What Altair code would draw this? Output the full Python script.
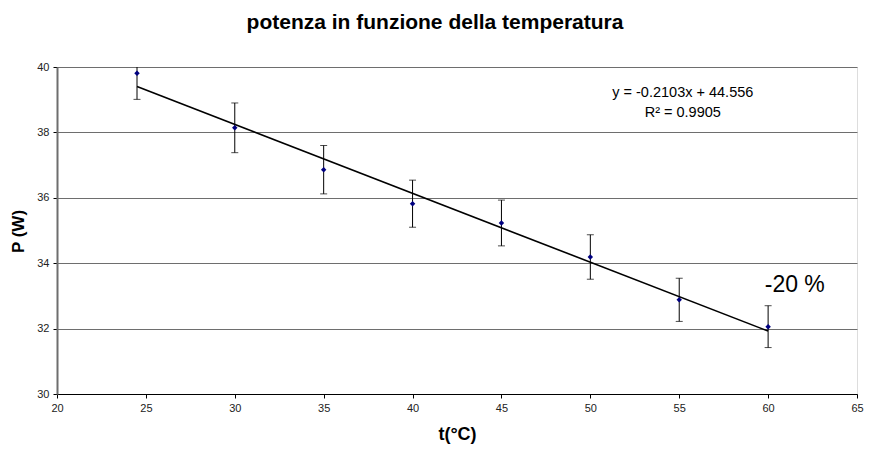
import altair as alt
import pandas as pd

# data
t_vals = [24.5, 30, 35, 40, 45, 50, 55, 60]
p_vals = [39.81, 38.14, 36.86, 35.82, 35.23, 34.19, 32.88, 32.06]
err_vals = [0.80, 0.76, 0.74, 0.72, 0.70, 0.68, 0.66, 0.64]
x_ticks = [20, 25, 30, 35, 40, 45, 50, 55, 60, 65]
y_ticks = [30, 32, 34, 36, 38, 40]

chart_title = "potenza in funzione della temperatura"
eq_line1 = "y = -0.2103x + 44.556"
eq_line2 = "R² = 0.9905"
note_text = "-20 %"

df = pd.DataFrame({
    "t": t_vals,
    "P": p_vals,
    "lo": [p - e for p, e in zip(p_vals, err_vals)],
    "hi": [p + e for p, e in zip(p_vals, err_vals)],
})

FONT = "Liberation Sans"
W, H = 800, 327

xs = alt.Scale(domain=[20, 65], nice=False, zero=False)
ys = alt.Scale(domain=[30, 40], nice=False, zero=False)

xenc = alt.X("t:Q", scale=xs, axis=alt.Axis(
    values=x_ticks, title="t(°C)", grid=False, domainColor="black",
    tickColor="black", tickSize=4, labelFontSize=11, labelPadding=4,
    labelFlush=False, labelOverlap=False,
    labelColor="#222222", titleFontSize=18, titleFontWeight="bold",
    titleX=W / 2, titleY=40, titleBaseline="middle", titleAlign="center"))
yenc = alt.Y("P:Q", scale=ys, axis=alt.Axis(
    values=y_ticks, title="P (W)", grid=True, gridColor="#6e6e6e",
    gridWidth=1, domainColor="#6e6e6e", domainWidth=2, tickColor="black",
    tickSize=4, labelFontSize=11, labelPadding=4, labelColor="#222222",
    labelFlush=False, labelOverlap=False,
    titleFontSize=17, titleFontWeight="bold", titleX=-39, titleY=164,
    titleBaseline="middle", titleAlign="center"))

base = alt.Chart(df)

bars = base.mark_rule(color="black", strokeWidth=1, clip=True).encode(
    x=xenc, y=alt.Y("lo:Q", scale=ys), y2="hi:Q")
cap_lo = base.mark_tick(color="black", orient="horizontal", size=7,
                        thickness=1, clip=True).encode(
    x=alt.X("t:Q", scale=xs), y=alt.Y("lo:Q", scale=ys))
cap_hi = base.mark_tick(color="black", orient="horizontal", size=7,
                        thickness=1, clip=True).encode(
    x=alt.X("t:Q", scale=xs), y=alt.Y("hi:Q", scale=ys))
trend = base.transform_regression("t", "P").mark_line(
    color="black", strokeWidth=1.6).encode(
    x=alt.X("t:Q", scale=xs), y=alt.Y("P:Q", scale=ys))
pts = base.mark_point(shape="diamond", filled=True, color="#000080",
                      size=30, opacity=1).encode(x=xenc, y=yenc)

eq1 = alt.Chart(pd.DataFrame({"s": [eq_line1]})).mark_text(
    font=FONT, fontSize=14.5, color="black", align="center",
    baseline="middle").encode(
    x=alt.datum(55.2, scale=xs), y=alt.datum(39.2, scale=ys), text="s:N")
eq2 = alt.Chart(pd.DataFrame({"s": [eq_line2]})).mark_text(
    font=FONT, fontSize=14.5, color="black", align="center",
    baseline="middle").encode(
    x=alt.datum(55.2, scale=xs), y=alt.datum(38.59, scale=ys), text="s:N")
note = alt.Chart(pd.DataFrame({"s": [note_text]})).mark_text(
    font=FONT, fontSize=23, color="black", align="center",
    baseline="middle").encode(
    x=alt.datum(61.5, scale=xs), y=alt.datum(33.34, scale=ys), text="s:N")

chart = alt.layer(bars, cap_lo, cap_hi, trend, pts, eq1, eq2, note).properties(
    width=W, height=H,
    title=alt.TitleParams(chart_title, font=FONT, fontSize=21,
                          fontWeight="bold", anchor="middle", dx=-22,
                          offset=28, color="black"),
    autosize=alt.AutoSizeParams(type="none"),
    padding={"left": 49, "top": 59, "right": 7, "bottom": 52},
).configure_view(stroke="#9a9a9a", strokeWidth=1).configure_axis(
    labelFont=FONT, titleFont=FONT, titleColor="black"
).configure(background="white")

chart.save("out.html", embed_options={"renderer": "svg", "actions": False})
